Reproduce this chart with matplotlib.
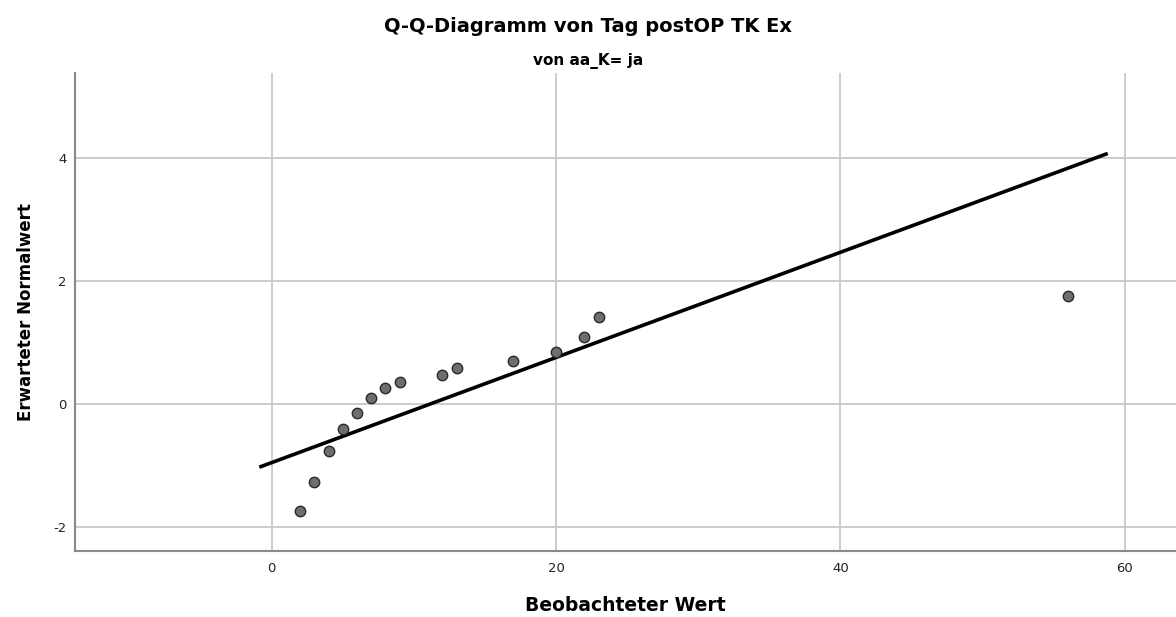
import matplotlib
matplotlib.use("Agg")
import matplotlib.pyplot as plt

plt.rcParams["axes.unicode_minus"] = False

observed = [2, 3, 4, 5, 6, 7, 8, 9, 12, 13, 17, 20, 22, 23, 56]
expected = [-1.745, -1.277, -0.772, -0.413, -0.152, 0.103, 0.256, 0.364,
            0.468, 0.582, 0.706, 0.848, 1.088, 1.408, 1.75]

# reference line endpoints
line_x = [-0.87, 58.8]
line_y = [-1.03, 4.08]

x_ticks = [0, 20, 40, 60]
y_ticks = [-2, 0, 2, 4]

title = "Q-Q-Diagramm von Tag postOP TK Ex"
subtitle = "von aa_K= ja"
x_label = "Beobachteter Wert"
y_label = "Erwarteter Normalwert"

W, H = 1176, 617
fig = plt.figure(figsize=(W / 100, H / 100), dpi=100)
fig.patch.set_facecolor("white")

left, right, top, bottom = 75, 1176, 73, 550.7
ax = fig.add_axes([left / W, 1 - bottom / H, (right - left) / W, (bottom - top) / H])

ax.set_xlim(-13.83, 63.6)
ax.set_ylim(-2.39, 5.39)

ax.grid(True, color="#c8c8c8", linewidth=1.3)
ax.set_axisbelow(True)

ax.plot(line_x, line_y, color="black", linewidth=2.6, solid_capstyle="butt", zorder=3)
ax.plot(observed, expected, linestyle="none", marker="o", markersize=7.5,
        markerfacecolor="#6e6e6e", markeredgecolor="#2a2a2a", markeredgewidth=1.0, zorder=4)

ax.set_xticks(x_ticks)
ax.set_yticks(y_ticks)
ax.tick_params(axis="both", length=0, labelsize=9.5, colors="#222222")
ax.tick_params(axis="x", pad=8)
ax.tick_params(axis="y", pad=6)

for s in ["top", "right"]:
    ax.spines[s].set_visible(False)
for s in ["left", "bottom"]:
    ax.spines[s].set_color("#8a8a8a")
    ax.spines[s].set_linewidth(1.5)

ax.set_xlabel(x_label, fontsize=13.5, fontweight="bold")
ax.xaxis.set_label_coords(0.5, -0.095)
ax.set_ylabel(y_label, fontsize=12, fontweight="bold")
ax.yaxis.set_label_coords(-0.036, 0.5)

fig.text(0.5, 1 - 32 / H, title, ha="center", va="baseline", fontsize=14, fontweight="bold")
fig.text(0.5, 1 - 65 / H, subtitle, ha="center", va="baseline", fontsize=11, fontweight="bold")

fig.savefig("out.png", dpi=100)
